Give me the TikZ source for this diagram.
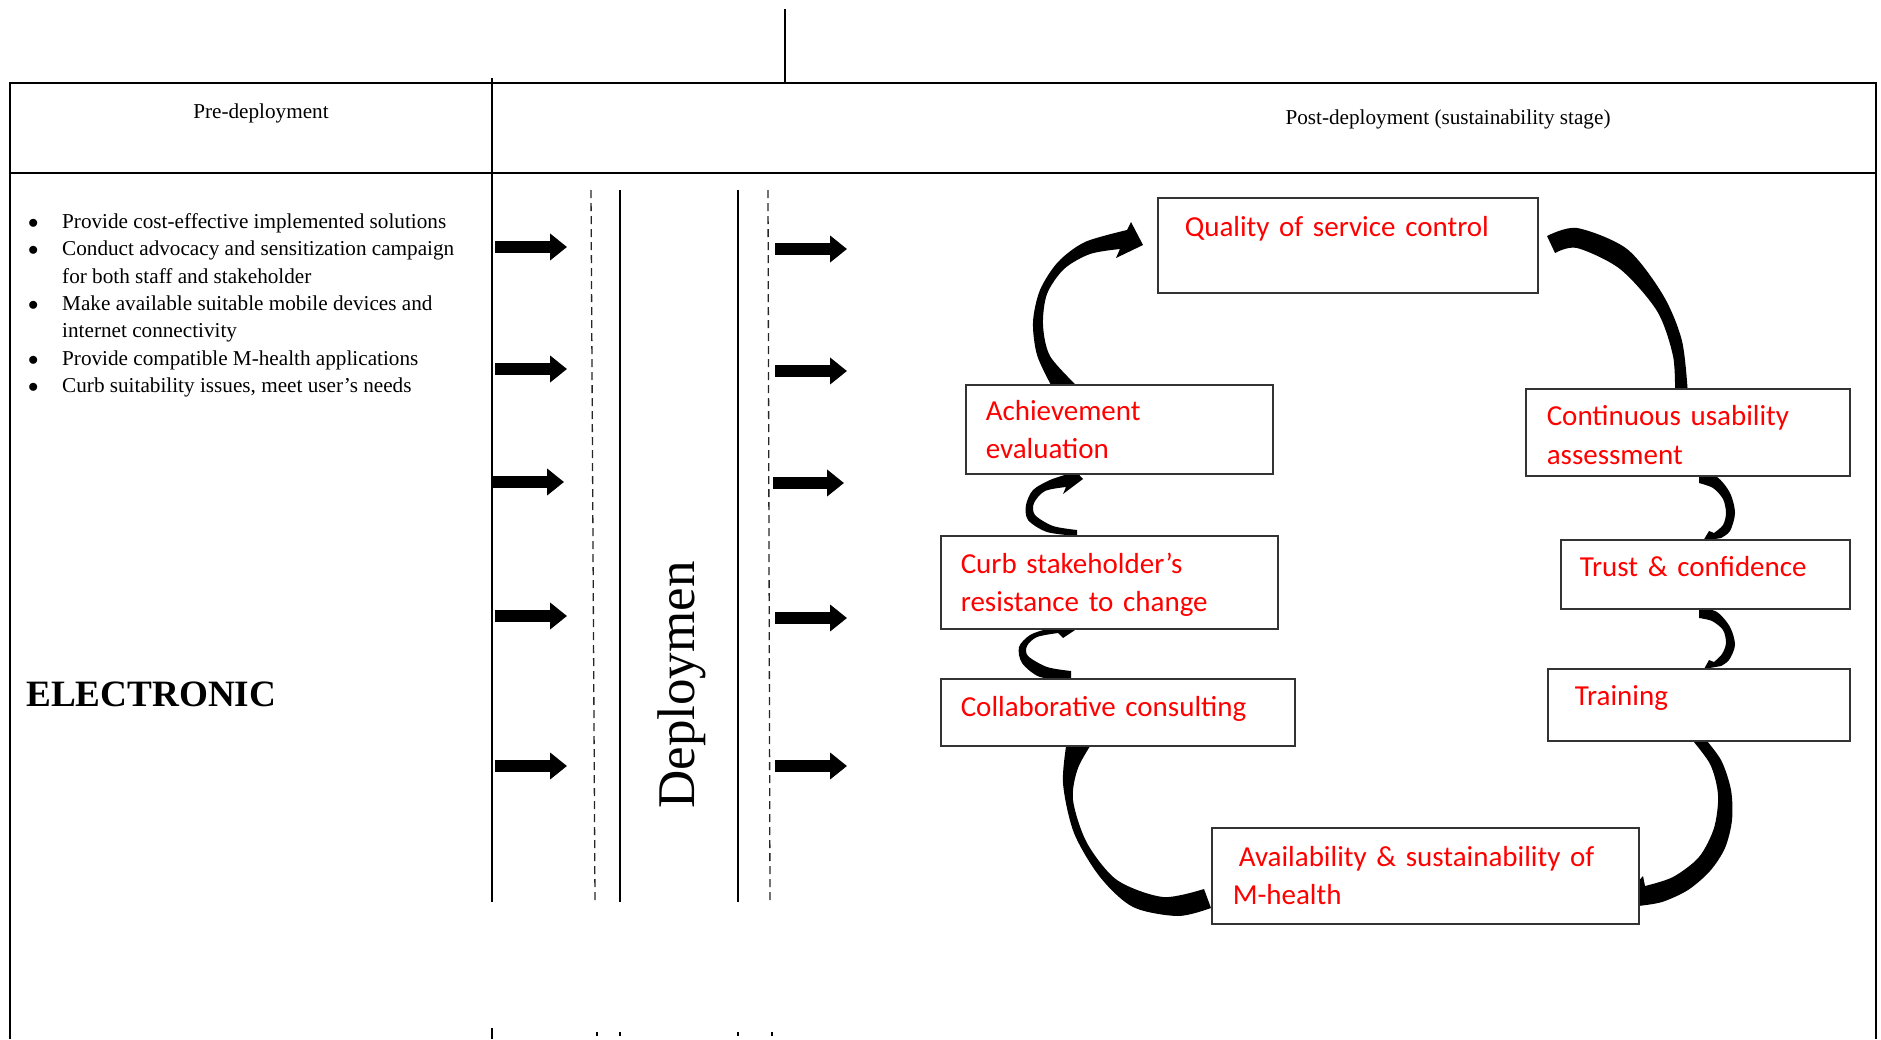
\documentclass[tikz,border=0pt]{standalone}
\usepackage{fontspec}
\setmainfont{Liberation Serif}
\newfontfamily\calibri{Carlito}
\usetikzlibrary{arrows.meta}

\begin{document}
\begin{tikzpicture}[x=1pt,y=-1pt,
  stagebox/.style n args={4}{draw=black!80,line width=1.5pt,fill=white,
    anchor=north west,align=left,text=red,inner ysep=0pt,
    font={\calibri\fontsize{29}{38.4}\selectfont},
    minimum width=#1pt,minimum height=#2pt,inner xsep=#3pt,text width=#4pt},
  swoosh/.style={fill=black},
  blockarrow/.style={line width=12pt,-{Triangle[length=17pt,width=26pt]}},
  divider/.style={line width=1.5pt},
  guide/.style={line width=1.3pt,black!85,dash pattern=on 8pt off 5pt},
  plain/.style={font=\fontsize{21.2}{27.4}\selectfont}]
\useasboundingbox (0,0) rectangle (1881,1039);
\draw[line width=2.5pt] (10,1039) -- (10,83) -- (1876,83) -- (1876,1039);
\draw[line width=2pt] (10,173) -- (1876,173);
\draw[divider] (492,78) -- (492,902) (492,1028) -- (492,1039);
\draw[divider] (785,9) -- (785,83);
\draw[guide] (591,190) -- (595,902);
\draw[guide] (768,190) -- (770,902);
\draw[line width=1.2pt] (620,190) -- (620,902) (738,190) -- (738,902);
\foreach \x in {597,620,738,772}
  \draw[line width=1.2pt] (\x,1032) -- (\x,1036);
\node[plain] (prehead) at (261,113) {Pre-deployment};
\node[plain] (posthead) at (1448,119) {Post-deployment (sustainability stage)};
\node[plain,anchor=north west,inner sep=0pt] (prelist) at (28,209) {%
  \begin{tabular}{@{}p{34pt}@{}l@{}}
  $\bullet$ & Provide cost-effective implemented solutions\\
  $\bullet$ & Conduct advocacy and sensitization campaign\\
   & for both staff and stakeholder\\
  $\bullet$ & Make available suitable mobile devices and\\
   & internet connectivity\\
  $\bullet$ & Provide compatible M-health applications\\
  $\bullet$ & Curb suitability issues, meet user’s needs
  \end{tabular}};
\node[font=\bfseries\fontsize{37.2}{40}\selectfont,anchor=west,inner sep=0pt]
  (elec) at (26,694) {ELECTRONIC};
\node[rotate=90,font=\fontsize{53}{60}\selectfont,inner sep=0pt]
  (deploy) at (682,685) {Deploymen};
\foreach \i/\y/\xa/\xb in {1/247/495/567,2/369/495/567,3/482/493/564,
    4/616/495/567,5/766/495/567} {
  \coordinate (in\i) at (\xa,\y); \coordinate (inE\i) at (\xb,\y);
  \draw[blockarrow] (in\i) -- (inE\i);
}
\foreach \i/\y/\xa/\xb in {1/249/775/847,2/371/775/847,3/483/773/844,
    4/618/775/847,5/766/775/847} {
  \coordinate (out\i) at (\xa,\y); \coordinate (outE\i) at (\xb,\y);
  \draw[blockarrow] (out\i) -- (outE\i);
}
% curved arrows of the cycle
\fill[swoosh] plot[smooth] coordinates {(1051,385) (1037,355) (1033,322)
    (1040,290) (1058,262) (1085,242) (1127,230)}
  -- (1131,222) -- (1143,245) -- (1116,258)
  -- plot[smooth] coordinates {(1120,249) (1090,254) (1064,269) (1047,294)
    (1043,325) (1050,356) (1076,385)} -- cycle;
\fill[swoosh] plot[smooth] coordinates {(1547,236) (1577,228) (1627,249)
    (1663,295) (1682,341) (1688,395)}
  -- plot[smooth] coordinates {(1675,395) (1673,356) (1657,311) (1620,269)
    (1577,248) (1555,253)} -- cycle;
\fill[swoosh] plot[smooth] coordinates {(1699,473) (1717,477) (1730,493)
    (1735,513) (1730,531) (1721,538)}
  -- (1703,541) -- (1709,531)
  -- plot[smooth] coordinates {(1714,533) (1723,525) (1726,513) (1723,499)
    (1713,488) (1699,483)} -- cycle;
\fill[swoosh] plot[smooth] coordinates {(1699,607) (1717,612) (1730,627)
    (1735,645) (1729,660) (1721,666)}
  -- (1704,669) -- (1709,660)
  -- plot[smooth] coordinates {(1714,662) (1722,654) (1726,643) (1723,630)
    (1712,621) (1699,618)} -- cycle;
\fill[swoosh] plot[smooth] coordinates {(1702,735) (1721,760) (1731,790)
    (1732,820) (1725,848) (1710,871) (1688,890) (1662,902) (1638,906)}
  -- (1628,893) -- (1643,876)
  -- plot[smooth] coordinates {(1645,886) (1673,877) (1699,857) (1714,828)
    (1718,795) (1710,764) (1688,735)} -- cycle;
\fill[swoosh] plot[smooth] coordinates {(1094,740) (1078,768) (1073,800)
    (1087,843) (1117,880) (1163,897) (1204,889)}
  -- plot[smooth] coordinates {(1211,908) (1178,916) (1133,907) (1100,877)
    (1074,833) (1063,783) (1067,740)} -- cycle;
\fill[swoosh] plot[smooth] coordinates {(1071,680) (1040,677) (1022,663)
    (1019,647) (1030,635) (1047,629) (1058,627)}
  -- (1059,619) -- (1078,628) -- (1063,638)
  -- plot[smooth] coordinates {(1058,633) (1037,637) (1027,646) (1028,656)
    (1047,667) (1071,671)} -- cycle;
\fill[swoosh] plot[smooth] coordinates {(1077,536) (1047,532) (1028,520)
    (1026,505) (1033,490) (1050,480) (1068,474)}
  -- (1070,465) -- (1083,479) -- (1063,494)
  -- plot[smooth] coordinates {(1066,487) (1045,491) (1034,503) (1035,515)
    (1053,526) (1077,530)} -- cycle;
% stages
\node[stagebox={380}{95}{27}{326}] (qos) at (1157,197)
  {Quality of service control\\~};
\node[stagebox={307}{89}{20}{267}] (achv) at (965,384)
  {Achievement\\evaluation};
\node[stagebox={324}{87}{21}{282}] (cont) at (1525,388)
  {\rule{0pt}{26pt}Continuous usability\\assessment};
\node[stagebox={289}{69}{19}{251},text depth=16pt] (trust) at (1560,539)
  {Trust \& confidence};
\node[stagebox={337}{93}{20}{297}] (curb) at (940,535)
  {\rule{0pt}{26pt}Curb stakeholder’s\\resistance to change};
\node[stagebox={354}{67}{20}{314},text depth=11pt] (collab) at (940,678)
  {Collaborative consulting};
\node[stagebox={302}{72}{27}{248},text depth=18pt] (train) at (1547,668)
  {Training};
\node[stagebox={427}{96}{21}{385}] (avail) at (1211,827)
  {\hspace{6pt}Availability \& sustainability of\\M-health};
\end{tikzpicture}
\end{document}
